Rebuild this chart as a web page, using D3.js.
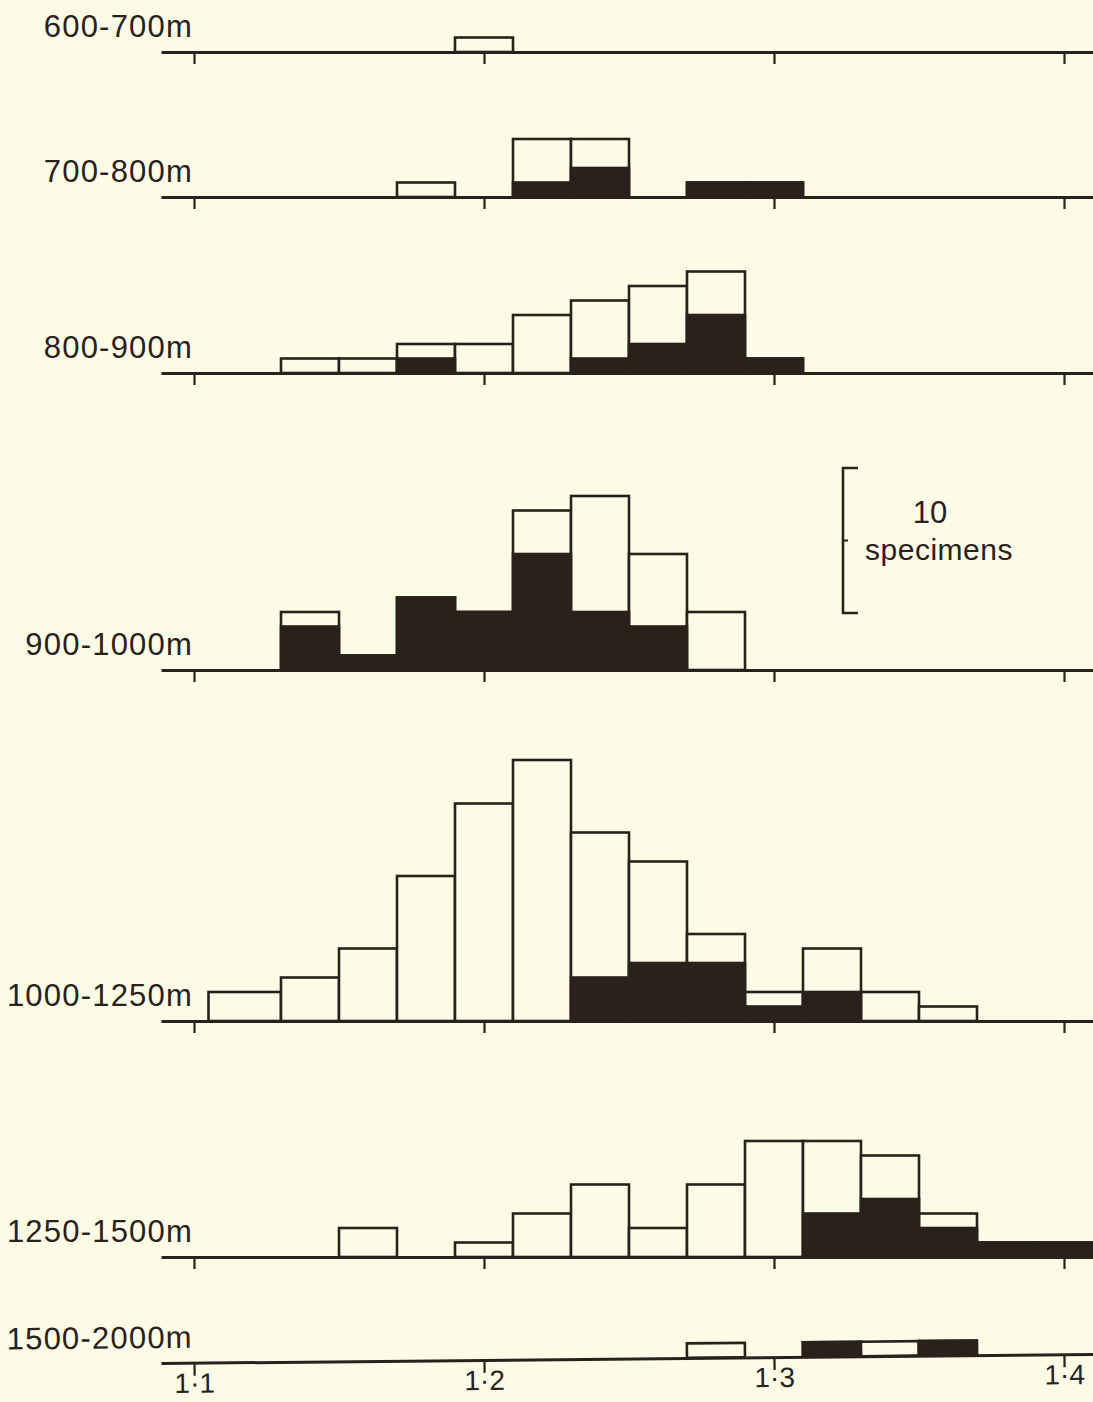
<!DOCTYPE html>
<html>
<head>
<meta charset="utf-8">
<script src="https://cdn.jsdelivr.net/npm/d3@7"></script>
<style>
  html, body { margin: 0; padding: 0; background: #fbfbe6; }
  svg { display: block; }
</style>
</head>
<body>
<script>
// Bin edges (index ratio classes, width 0.02; first class drawn a little wider)
var binLo = [1.105, 1.13, 1.15, 1.17, 1.19, 1.21, 1.23, 1.25, 1.27, 1.29, 1.31, 1.33, 1.35, 1.37, 1.39];
var binHi = [1.13, 1.15, 1.17, 1.19, 1.21, 1.23, 1.25, 1.27, 1.29, 1.31, 1.33, 1.35, 1.37, 1.39, 1.41];

var depths = ["600-700m", "700-800m", "800-900m", "900-1000m", "1000-1250m", "1250-1500m", "1500-2000m"];

// total specimens per class, and the black (filled) part of each bar
var total600 = [0, 0, 0, 0, 1, 0, 0, 0, 0, 0, 0, 0, 0, 0, 0];
var black600 = [0, 0, 0, 0, 0, 0, 0, 0, 0, 0, 0, 0, 0, 0, 0];
var total700 = [0, 0, 0, 1, 0, 4, 4, 0, 1, 1, 0, 0, 0, 0, 0];
var black700 = [0, 0, 0, 0, 0, 1, 2, 0, 1, 1, 0, 0, 0, 0, 0];
var total800 = [0, 1, 1, 2, 2, 4, 5, 6, 7, 1, 0, 0, 0, 0, 0];
var black800 = [0, 0, 0, 1, 0, 0, 1, 2, 4, 1, 0, 0, 0, 0, 0];
var total900 = [0, 4, 1, 5, 4, 11, 12, 8, 4, 0, 0, 0, 0, 0, 0];
var black900 = [0, 3, 1, 5, 4, 8, 4, 3, 0, 0, 0, 0, 0, 0, 0];
var total1000 = [2, 3, 5, 10, 15, 18, 13, 11, 6, 2, 5, 2, 1, 0, 0];
var black1000 = [0, 0, 0, 0, 0, 0, 3, 4, 4, 1, 2, 0, 0, 0, 0];
var total1250 = [0, 0, 2, 0, 1, 3, 5, 2, 5, 8, 8, 7, 3, 1, 1];
var black1250 = [0, 0, 0, 0, 0, 0, 0, 0, 0, 0, 3, 4, 2, 1, 1];
var total1500 = [0, 0, 0, 0, 0, 0, 0, 0, 1, 0, 1, 1, 1, 0, 0];
var black1500 = [0, 0, 0, 0, 0, 0, 0, 0, 0, 0, 1, 0, 1, 0, 0];

var totals = [total600, total700, total800, total900, total1000, total1250, total1500];
var blacks = [black600, black700, black800, black900, black1000, black1250, black1500];

var tickValues = [1.1, 1.2, 1.3, 1.4];
var tickLabels = ["1\u00b71", "1\u00b72", "1\u00b73", "1\u00b74"];
var scaleCount = 10;

// layout
var width = 1093, height = 1402;
var bg = "#fbfbe6", ink = "#2a211c";
var baseY = [52, 197, 373, 670, 1021, 1257, 1363];
var tilt = -0.56;   // the last strip is printed slightly askew

var x = d3.scaleLinear().domain([1.1, 1.4]).range([194, 1064]);
var axisX = x.copy().domain([x.invert(161), 1.41]).range([161, x(1.41)]);
var yH = d3.scaleLinear().domain([0, 10]).range([0, 145]);

var svg = d3.select("body").append("svg")
  .attr("width", width)
  .attr("height", height);

svg.append("rect")
  .attr("width", width)
  .attr("height", height)
  .attr("fill", bg);

depths.forEach(function(name, i) {
  var t = "translate(0," + baseY[i] + ")";
  if (i === depths.length - 1) t += " rotate(" + tilt + ",165,0)";
  var g = svg.append("g").attr("transform", t);

  var bins = binLo.map(function(lo, j) {
    return {lo: lo, hi: binHi[j], total: totals[i][j], black: blacks[i][j]};
  });

  // open part of each bar (outline)
  g.selectAll("rect.tot")
    .data(bins.filter(function(d) { return d.total > 0; }))
    .join("rect")
    .attr("class", "tot")
    .attr("x", function(d) { return x(d.lo); })
    .attr("width", function(d) { return x(d.hi) - x(d.lo); })
    .attr("y", function(d) { return -yH(d.total); })
    .attr("height", function(d) { return yH(d.total); })
    .attr("fill", bg)
    .attr("stroke", ink)
    .attr("stroke-width", 2.6);

  // black part
  g.selectAll("rect.blk")
    .data(bins.filter(function(d) { return d.black > 0; }))
    .join("rect")
    .attr("class", "blk")
    .attr("x", function(d) { return x(d.lo); })
    .attr("width", function(d) { return x(d.hi) - x(d.lo); })
    .attr("y", function(d) { return -yH(d.black); })
    .attr("height", function(d) { return yH(d.black); })
    .attr("fill", ink)
    .attr("stroke", ink)
    .attr("stroke-width", 2.6);

  var last = i === depths.length - 1;
  var ax = g.append("g")
    .call(d3.axisBottom(axisX)
      .tickValues(tickValues)
      .tickSize(last ? 13 : 12)
      .tickSizeOuter(0)
      .tickPadding(2)
      .tickFormat(function(d, k) { return last ? tickLabels[k] : ""; }));
  ax.select(".domain").attr("stroke", ink).attr("stroke-width", 3);
  ax.selectAll(".tick line").attr("stroke", ink).attr("stroke-width", 2.2);
  ax.selectAll(".tick text")
    .attr("fill", ink)
    .attr("dy", "0.54em")
    .style("font-family", "'Liberation Sans', Arial, sans-serif")
    .style("font-size", "28px");

  // depth label
  g.append("text")
    .attr("x", 193)
    .attr("y", -15)
    .attr("text-anchor", "end")
    .attr("fill", ink)
    .style("font-family", "'Liberation Sans', Arial, sans-serif")
    .style("font-size", "31px")
    .style("letter-spacing", "1.2px")
    .text(name);
});

// scale bar: 10 specimens
var sTop = 468, sX = 843;
var sb = svg.append("g");
sb.append("path")
  .attr("d", "M" + (sX + 15) + "," + sTop + "H" + sX + "V" + (sTop + yH(scaleCount)) + "H" + (sX + 15))
  .attr("fill", "none")
  .attr("stroke", ink)
  .attr("stroke-width", 2.6);
sb.append("line")
  .attr("x1", sX).attr("x2", sX + 5)
  .attr("y1", sTop + yH(scaleCount / 2)).attr("y2", sTop + yH(scaleCount / 2))
  .attr("stroke", ink)
  .attr("stroke-width", 2);
sb.append("text")
  .attr("x", 930).attr("y", 523)
  .attr("text-anchor", "middle")
  .attr("fill", ink)
  .style("font-family", "'Liberation Sans', Arial, sans-serif")
  .style("font-size", "31px")
  .text(String(scaleCount));
sb.append("text")
  .attr("x", 939).attr("y", 560)
  .attr("text-anchor", "middle")
  .attr("fill", ink)
  .style("font-family", "'Liberation Sans', Arial, sans-serif")
  .style("font-size", "30px")
  .style("letter-spacing", "0.5px")
  .text("specimens");
</script>
</body>
</html>
